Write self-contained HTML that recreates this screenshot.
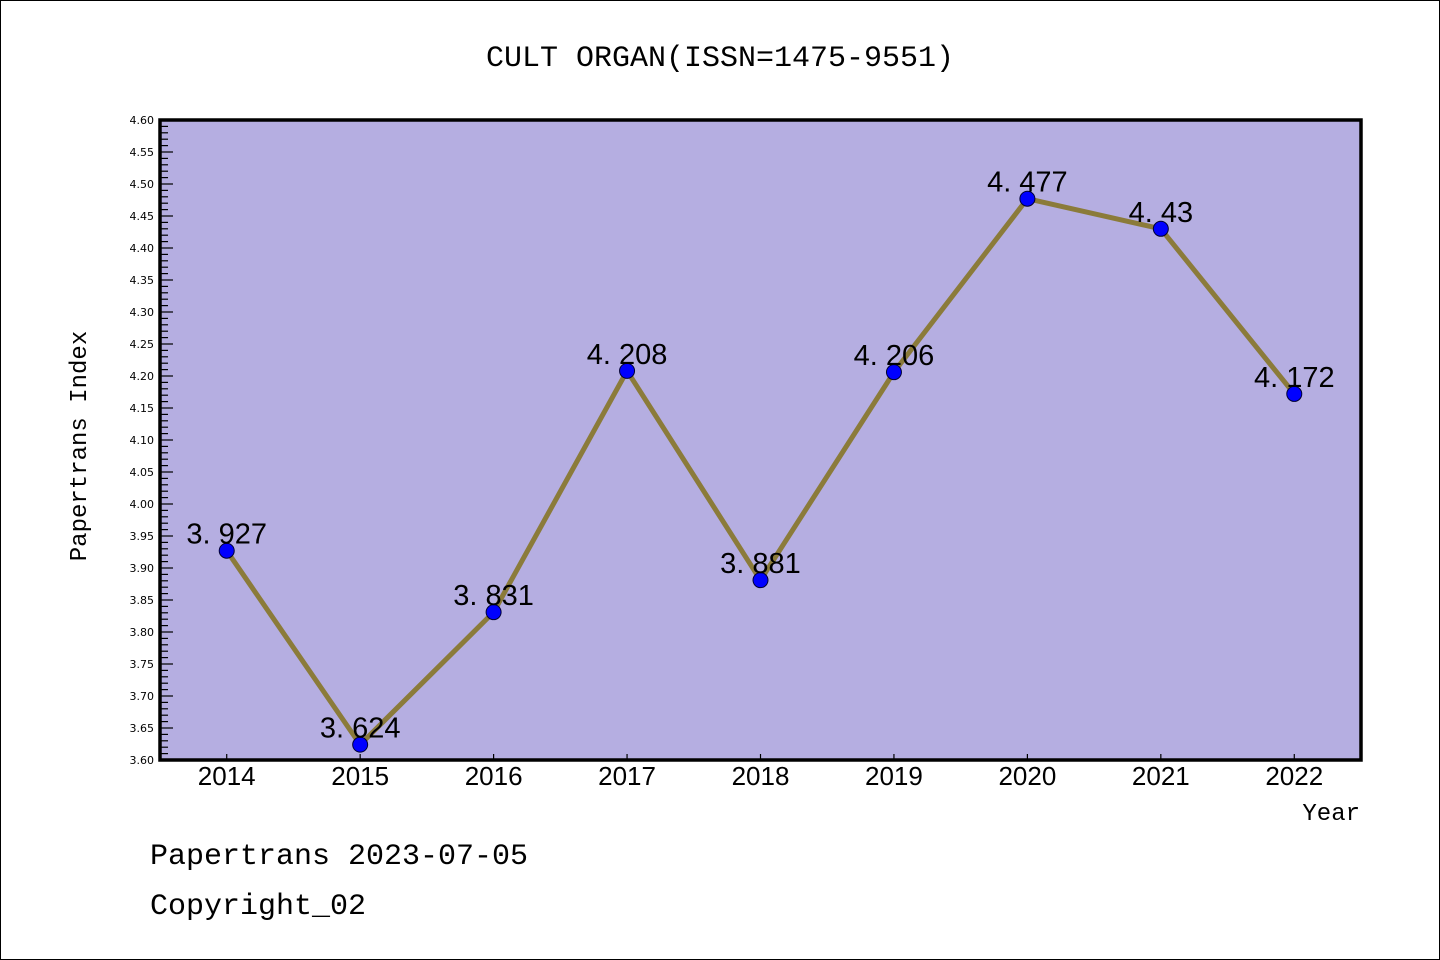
<!DOCTYPE html>
<html><head><meta charset="utf-8"><style>
html,body{margin:0;padding:0;background:#fff;}
svg{display:block;}
text{font-family:"Liberation Mono","DejaVu Sans Mono",monospace;}
</style></head><body>
<svg id="chart" width="1440" height="960">
<rect x="0.5" y="0.5" width="1439" height="959" fill="#fff" stroke="#000" stroke-width="1"/>
<text x="720" y="66" text-anchor="middle" font-size="30">CULT ORGAN(ISSN=1475-9551)</text>
<rect x="160" y="120" width="1201" height="640" fill="#b5aee1"/>
<g id="axes"></g>
<g id="series"></g>
<rect x="160" y="120" width="1201" height="640" fill="none" stroke="#000" stroke-width="3.5"/>
<text x="86" y="446" transform="rotate(-90 86 446)" text-anchor="middle" font-size="24">Papertrans Index</text>
<text x="1360" y="820" text-anchor="end" font-size="24">Year</text>
<text x="150" y="864" font-size="30">Papertrans 2023-07-05</text>
<text x="150" y="914" font-size="30">Copyright_02</text>
</svg>
<script>
const years = ["2014","2015","2016","2017","2018","2019","2020","2021","2022"];
const values = [3.927,3.624,3.831,4.208,3.881,4.206,4.477,4.43,4.172];
const yMin = 3.60, yMax = 4.60;
const NS="http://www.w3.org/2000/svg";
const L=160,R=1361,T=120,B=760;
const band=(R-L)/years.length;
function xScale(i){return L+(i+0.5)*band;}
function yScale(v){return B-(v-yMin)/(yMax-yMin)*(B-T);}
function mk(tag,attrs,parent){const e=document.createElementNS(NS,tag);for(const k in attrs)e.setAttribute(k,attrs[k]);parent.appendChild(e);return e;}
const axes=document.getElementById('axes'), series=document.getElementById('series');
for(let k=0;k<=100;k++){
  const v=yMin+k*0.01, y=yScale(v), major=k%5===0;
  const t=mk('line',{x1:L,x2:L+(major?13:8),y1:y,y2:y,stroke:'#000','stroke-width':1.2},axes);
  
  
  if(major){
    const lb=mk('text',{x:L-6,y:y+4,'text-anchor':'end','font-size':11,style:'font-family:"DejaVu Sans",sans-serif'},axes);
    lb.textContent=v.toFixed(2);
    
    
  }
}
years.forEach((yr,i)=>{
  const x=xScale(i);
  const t=mk('line',{x1:x,x2:x,y1:B,y2:B-6,stroke:'#000','stroke-width':1.2},axes);
  
  
  const lb=mk('text',{x:x,y:B+25,'text-anchor':'middle','font-size':26,style:'font-family:"Liberation Sans",sans-serif'},axes);
  lb.textContent=yr;
  
  
});
const pts=values.map((v,i)=>xScale(i)+','+yScale(v)).join(' ');
const line=mk('polyline',{points:pts,fill:'none',stroke:'#8b7b3a','stroke-width':5,'stroke-linejoin':'round'},series);


values.forEach((v,i)=>{
  const c=mk('circle',{cx:xScale(i),cy:yScale(v),r:7.5,fill:'#0000ff',stroke:'#000033','stroke-width':1},series);
  
  
  const t=mk('text',{x:xScale(i),y:yScale(v)-7,'text-anchor':'middle','font-size':29,style:'font-family:"Liberation Sans",sans-serif'},series);
  t.textContent=String(v).replace('.','. ');
  
  
});
</script>
</body></html>
